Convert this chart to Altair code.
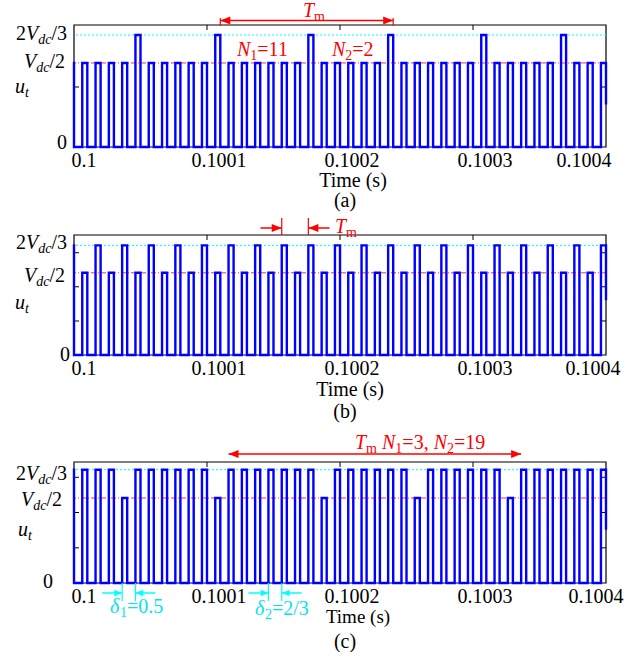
import altair as alt
import pandas as pd

# ---------------- data ----------------
T0 = 0.1            # start of the time window (s)
T_END = 0.1004      # end of the time window (s)
PERIOD = 1e-5       # switching period (s)
RISE = 0.62         # pulse turns on at this fraction of a period and off at the period end

VH = 1 / 2          # Vdc/2 (per unit of Vdc)
VT = 2 / 3          # 2Vdc/3

# pulse level in each switching period k = -1 ... 39
levels_a = [VH, VH, VH, VH, VH, VT, VH, VH, VH, VH, VH, VT, VH, VH, VH, VH, VH, VH, VT, VH, VH,
            VH, VH, VH, VT, VH, VH, VH, VH, VH, VH, VT, VH, VH, VH, VH, VH, VT, VH, VH, VH]
levels_b = [VT, VH, VT, VH, VT, VH, VT, VH, VT, VH, VT, VH, VT, VH, VT, VH, VT, VH, VT, VH, VT,
            VH, VT, VH, VT, VH, VT, VH, VT, VH, VT, VH, VT, VH, VT, VH, VT, VH, VT, VH, VT]
levels_c = [VT, VT, VT, VT, VH, VT, VT, VT, VT, VT, VT, VH, VT, VT, VT, VT, VT, VT, VT, VH, VT,
            VT, VT, VT, VT, VT, VH, VT, VT, VT, VT, VT, VT, VH, VT, VT, VT, VT, VT, VT, VT]
# last sample of each trace (caught mid-edge at the window end)
tail_a, tail_b, tail_c = 0.26, 0.34, 0.32

xtick_values = [0.1, 0.1001, 0.1002, 0.1003, 0.1004]
xtick_labels = ["0.1", "0.1001", "0.1002", "0.1003", "0.1004"]
ytick_a = [0.357]
ytick_bc = [0.207, 0.415, 0.622]
ymax_a, ymax_b, ymax_c = 0.726, 0.73, 0.712

# ---------------- style ----------------
SERIF = "Liberation Serif"
BLUE = "#0000ff"
RED = "#ff0000"
CYAN = "#00ffff"
CYAN_TXT = "#00e3ee"
W = 532
SUB = 0.7
SUB_SHIFT = 4
NBSP = "\u00a0"
ONE = pd.DataFrame({"k": [0]})

REG = {".": .25, " ": .25, NBSP: .25, "/": .278, "=": .564, ",": .25, "(": .333, ")": .333,
       "m": .778, "a": .444, "b": .5, "c": .444, "T": .611, "i": .278, "e": .444, "s": .389,
       "d": .5}
ITA = {"V": .611, "d": .5, "c": .444, "u": .5, "t": .278, "T": .556, "N": .667, "δ": .5}


def text_width(s, italic, size):
    table = ITA if italic else REG
    return sum(table.get(ch, .5) for ch in s) * size


def rich(pieces, x, y=None, color="black", size=20, anchor="left", ydatum=None, dy=0):
    """Lay out (text, italic, subscript) pieces from left to right."""
    sizes = [size * SUB if sub else size for _, _, sub in pieces]
    widths = [text_width(s, it, fs) for (s, it, _), fs in zip(pieces, sizes)]
    total = sum(widths)
    left = {"left": x, "right": x - total, "center": x - total / 2}[anchor]
    out = []
    for (s, it, sub), fs, w in zip(pieces, sizes, widths):
        shift = SUB_SHIFT if sub else 0
        if ydatum is None:
            yenc, ddy = alt.value(y + shift), 0
        else:
            yenc, ddy = alt.datum(ydatum), dy + shift
        out.append(
            alt.Chart(ONE).mark_text(
                text=s, align="left", baseline="alphabetic", font=SERIF, fontSize=fs,
                fontStyle="italic" if it else "normal", color=color, dy=ddy,
            ).encode(x=alt.value(left), y=yenc)
        )
        left += w
    return out


def plain(s, x, y, anchor="center", size=20, color="black"):
    return alt.Chart(ONE).mark_text(
        text=s, align=anchor, baseline="alphabetic", font=SERIF, fontSize=size, color=color
    ).encode(x=alt.value(x), y=alt.value(y))


def waveform(levels, tail):
    t = [T0, T0]
    v = [levels[0], 0.0]
    n = len(levels) - 1
    for k, lev in enumerate(levels[1:]):
        on = T0 + (k + RISE) * PERIOD
        off = T0 + (k + 1) * PERIOD
        after = tail if k == n - 1 else 0.0
        t += [on, on, off, off]
        v += [0.0, lev, lev, after]
    return pd.DataFrame({"t": t, "v": v, "i": range(len(t))})


def rise(k):
    return T0 + (k + RISE) * PERIOD


def fall(k):
    return T0 + (k + 1) * PERIOD


def head(t, y, direction, color, size=400):
    path = "M0,0L1,-0.4L1,0.4Z" if direction == "left" else "M0,0L-1,-0.4L-1,0.4Z"
    return alt.Chart(ONE).mark_point(
        shape=path, filled=True, size=size, color=color, opacity=1, strokeWidth=0
    ).encode(x=alt.datum(t), y=alt.value(y))


def shaft(t1, t2, y, color, width=1.5):
    return alt.Chart(ONE).mark_rule(color=color, strokeWidth=width).encode(
        x=alt.datum(t1), x2=alt.datum(t2), y=alt.value(y))


def marker(t, y1, y2, color, width=1.2):
    return alt.Chart(ONE).mark_rule(color=color, strokeWidth=width).encode(
        x=alt.datum(t), y=y1, y2=y2)


def label_2v3():
    return [("2", False, False), ("V", True, False), ("dc", True, True), (NBSP + "/3", False, False)]


def label_v2():
    return [("V", True, False), ("dc", True, True), (NBSP + "/2", False, False)]


def label_u():
    return [("u", True, False), ("t", True, True)]


def panel(levels, tail, H, view_h, ymax, yticks, ylab, xlab_base, last_dx, extra):
    xs = alt.Scale(domain=[T0, T_END], nice=False, zero=False)
    ys = alt.Scale(domain=[0, ymax], range=[H, 0], nice=False)
    wave = waveform(levels, tail)

    layers = [
        alt.Chart(ONE).mark_rect(filled=False, stroke="black", strokeWidth=1.2).encode(
            x=alt.value(0), x2=alt.value(W), y=alt.value(0), y2=alt.value(H)),
        alt.Chart(ONE).mark_rule(color=CYAN, strokeDash=[2, 2], strokeWidth=1).encode(
            y=alt.datum(VT)),
        alt.Chart(ONE).mark_rule(color=RED, strokeDash=[5, 2, 1, 2], strokeWidth=0.8).encode(
            y=alt.datum(VH)),
    ]
    yt = pd.DataFrame({"v": yticks})
    layers += [
        alt.Chart(yt).mark_rule(color="black").encode(
            y=alt.Y("v:Q", scale=ys, axis=None), x=alt.value(0), x2=alt.value(5)),
        alt.Chart(yt).mark_rule(color="black").encode(
            y=alt.Y("v:Q", scale=ys, axis=None), x=alt.value(W - 5), x2=alt.value(W)),
    ]
    xt = pd.DataFrame({"t": xtick_values[1:-1]})
    layers += [
        alt.Chart(xt).mark_rule(color="black").encode(
            x=alt.X("t:Q", scale=xs, axis=None), y=alt.value(0), y2=alt.value(5)),
        alt.Chart(xt).mark_rule(color="black").encode(
            x=alt.X("t:Q", scale=xs, axis=None), y=alt.value(H - 5), y2=alt.value(H)),
    ]
    layers.append(
        alt.Chart(wave).mark_line(color=BLUE, strokeWidth=2.4, strokeJoin="miter",
                                  strokeCap="square").encode(
            x=alt.X("t:Q", scale=xs, axis=None),
            y=alt.Y("v:Q", scale=ys, axis=None),
            order=alt.Order("i:Q"),
        )
    )

    # y-axis labels
    (r_hi, dy_hi), (r_mid, dy_mid), (r_zero, dy_zero), (u_left, u_base) = ylab
    layers += rich(label_2v3(), r_hi, anchor="right", ydatum=VT, dy=dy_hi)
    layers += rich(label_v2(), r_mid, anchor="right", ydatum=VH, dy=dy_mid)
    layers += rich([("0", False, False)], r_zero, anchor="right", ydatum=0, dy=dy_zero)
    layers += rich(label_u(), u_left, y=u_base)

    # x-axis tick labels
    for i, (tv, lab) in enumerate(zip(xtick_values, xtick_labels)):
        dx = last_dx if i == len(xtick_values) - 1 else (10 if i == 0 else 12)
        layers.append(
            alt.Chart(ONE).mark_text(
                text=lab, align="center", baseline="alphabetic", font=SERIF,
                fontSize=20, dx=dx,
            ).encode(x=alt.datum(tv), y=alt.value(H + xlab_base))
        )
    layers += extra
    return alt.layer(*layers).properties(width=W, height=view_h)


# ---------------- panel (a) ----------------
Ha = 122
extra_a = [
    # keeps the figure origin 74 px left of and 24 px above the first plot
    alt.Chart(ONE).mark_rule(color="white", strokeWidth=1).encode(
        x=alt.value(-73.5), x2=alt.value(-73.5), y=alt.value(-24), y2=alt.value(-22)),
    marker(fall(10), alt.value(-7), alt.datum(VT), RED),
    marker(fall(23), alt.value(-7), alt.datum(VT), RED),
    shaft(fall(10), fall(23), -4.5, RED),
    head(fall(10), -4.5, "left", RED),
    head(fall(23), -4.5, "right", RED),
]
extra_a += rich([("T", True, False), ("m", False, True)], 229, y=-8, color=RED)
extra_a += rich([("N", True, False), ("1", False, True), ("=11", False, False)], 163, y=31, color=RED)
extra_a += rich([("N", True, False), ("2", False, True), ("=2", False, False)], 258, y=31, color=RED)
extra_a += [plain("Time (s)", 279, Ha + 40), plain("(a)", 271, Ha + 60)]

chart_a = panel(levels_a, tail_a, Ha, Ha, ymax_a, ytick_a,
                [(-2, 5), (-4, 5), (-7, 2), (-59, 68)], 20, -22, extra_a)

# ---------------- panel (b) ----------------
Hb = 120
extra_b = [
    marker(rise(15), alt.value(-17), alt.value(0), RED),
    marker(rise(17), alt.value(-17), alt.value(0), RED),
    shaft(rise(15) - 1.6 * PERIOD, rise(15), -7, RED),
    shaft(rise(17), rise(17) + 1.6 * PERIOD, -7, RED),
    head(rise(15), -7, "right", RED),
    head(rise(17), -7, "left", RED),
]
extra_b += rich([("T", True, False), ("m", False, True)], 261, y=-2, color=RED)
extra_b += [plain("Time (s)", 276, Hb + 41), plain("(b)", 271, Hb + 63)]

chart_b = panel(levels_b, tail_b, Hb, Hb + 19, ymax_b, ytick_bc,
                [(-2, 4), (-4, 9), (-4, 6), (-59, 74)], 20, -13, extra_b)

# ---------------- panel (c) ----------------
Hc = 121
extra_c = [
    shaft(rise(11), rise(33), -8, RED),
    head(rise(11), -8, "left", RED),
    head(rise(33), -8, "right", RED),
]
extra_c += rich([("T", True, False), ("m", False, True), (" ", False, False),
                 ("N", True, False), ("1", False, True), ("=3,", False, False),
                 (" ", False, False),
                 ("N", True, False), ("2", False, True), ("=19", False, False)],
                281, y=-13, color=RED)
for k_on, k_next in [(3, 4), (14, 15)]:
    extra_c += [
        marker(rise(k_on), alt.value(Hc), alt.value(Hc + 18), CYAN),
        marker(rise(k_next), alt.value(Hc), alt.value(Hc + 18), CYAN),
        shaft(rise(k_on) - 1.5 * PERIOD, rise(k_on), Hc + 10, CYAN),
        shaft(rise(k_next), rise(k_next) + 1.5 * PERIOD, Hc + 10, CYAN),
        head(rise(k_on), Hc + 10, "right", CYAN, 250),
        head(rise(k_next), Hc + 10, "left", CYAN, 250),
    ]
extra_c += rich([("δ", True, False), ("1", False, True), ("=0.5", False, False)], 36, y=151, color=CYAN_TXT)
extra_c += rich([("δ", True, False), ("2", False, True), ("=2/3", False, False)], 181, y=153, color=CYAN_TXT)
extra_c += [plain("Time (s)", 284, Hc + 40, size=19), plain("(c)", 271, Hc + 65)]

chart_c = panel(levels_c, tail_c, Hc, Hc, ymax_c, ytick_bc,
                [(-2, 10), (-7, 8), (-21, 5), (-56, 74)], 20, -10, extra_c)

chart = (
    alt.vconcat(chart_a, chart_b, chart_c, spacing=88, bounds="flush")
    .properties(padding=0)
    .configure_axis(disable=True)
    .configure_view(strokeWidth=0)
)

chart.save("out.html", embed_options={"renderer": "svg", "actions": False})
